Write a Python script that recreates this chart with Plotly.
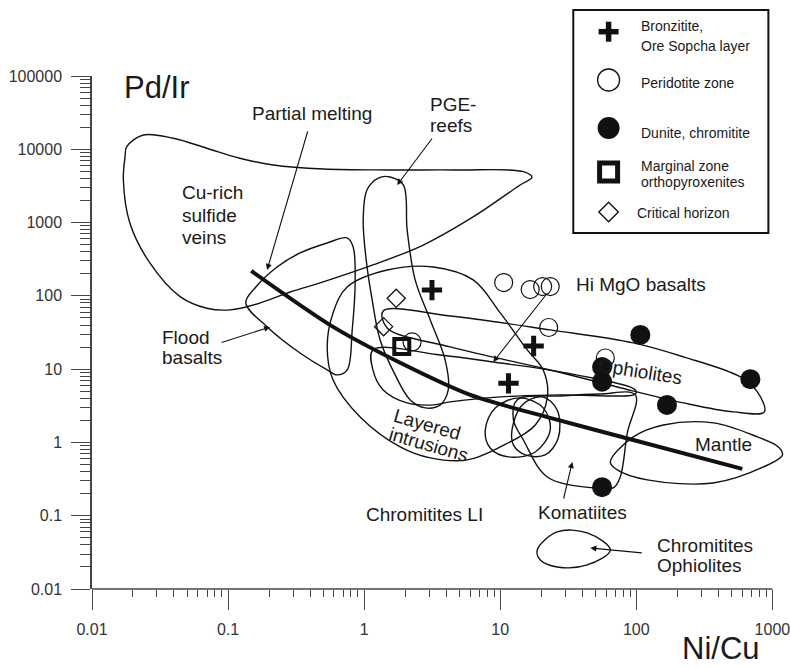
import plotly.graph_objects as go

# ---------------- sample data (Ni/Cu, Pd/Ir) ----------------
bronzitite_x = [3.15, 17.6, 11.5]
bronzitite_y = [120, 20.7, 6.4]

peridotite_x = [10.6, 16.6, 20.5, 23.3, 22.7, 59.2, 2.25]
peridotite_y = [152, 122, 134, 134, 37, 14.2, 23.5]

dunite_x = [107, 56, 56, 168, 689, 56]
dunite_y = [29.3, 10.7, 6.75, 3.25, 7.3, 0.245]

marginal_x = [1.89]
marginal_y = [20.3]

critical_x = [1.72, 1.39]
critical_y = [92.7, 38]

# partial melting trend
melting_x = [0.148, 0.592, 1.84, 6.02, 23.3, 95, 601]
melting_y = [219, 37.7, 12.2, 4.45, 2.16, 1.08, 0.435]

# ---------------- field outlines ----------------
cu_rich_x = [0.018, 0.0238, 0.0396, 0.0697, 0.122, 0.215, 0.502, 1.55, 4.8, 14.8, 17.1, 14.0,
             6.36, 2.72, 1.16, 0.50, 0.286, 0.163, 0.1035, 0.0697, 0.0444, 0.0267, 0.019, 0.017, 0.0175]
cu_rich_y = [10840, 15670, 14130, 10330, 7540, 6110, 5390, 5220, 5220, 4950, 4150, 3260,
             1203, 494, 264, 155, 113, 77.5, 64.3, 67.8, 97.5, 279, 977, 3810, 7930]

pge_x = [1.55, 1.94, 2.07, 2.37, 3.06, 3.94, 4.15, 3.62, 2.81, 2.18, 1.69, 1.31, 1.145, 1.035, 0.984, 1.048, 1.27]
pge_y = [4190, 3260, 793, 165, 46.9, 13.3, 5.2, 3.25, 2.96, 3.8, 8.34, 25, 87.9, 309, 1084, 2786, 4055]

flood_x = [0.135, 0.194, 0.338, 0.535, 0.633, 0.75, 0.817, 0.859, 0.83, 0.75, 0.535, 0.338, 0.229, 0.16]
flood_y = [80, 37.7, 16.6, 9.75, 8.34, 9.75, 34.3, 165, 465, 617, 527, 385, 248, 132]

layered_x = [0.75, 1.476, 3.22, 6.33, 10, 15.8, 20.7, 22.2, 18.1, 10, 5.72, 3.06, 1.84, 0.935, 0.591, 0.535, 0.591]
layered_y = [132, 225, 248, 165, 58.5, 18.3, 9.75, 4.18, 1.73, 0.869, 0.577, 0.615, 0.869, 2.23, 7.13, 20.1, 58.5]

ophiolites_x = [1.38, 4.29, 23.3, 95.1, 222, 582, 776, 873, 516, 222, 72.4, 23.3, 4.29, 1.476]
ophiolites_y = [62.2, 53.2, 34.3, 22.8, 14.7, 7.83, 4.89, 2.61, 2.61, 3.46, 5.71, 9.75, 20.1, 36.5]

hi_mgo_x = [1.16, 3.62, 8.89, 27.6, 98.4, 98.4, 27.6, 10, 4.29, 3.22, 2.07, 1.38, 1.16]
hi_mgo_y = [18.3, 15.6, 12.5, 9.16, 5.2, 4.59, 4.45, 4.18, 3.57, 3.25, 3.46, 5.2, 9.75]

komatiites_x = [98.4, 85.9, 76.2, 67.7, 48.3, 22.2, 14.8, 12.5, 13.3, 27.6, 54.3]
komatiites_y = [4.45, 1.35, 0.338, 0.239, 0.239, 0.338, 1.08, 2.03, 3.8, 4.31, 4.59]

loop_a_x = [7.76, 9.18, 14.0, 20.7, 23.3, 18.1, 11.5, 8.44]
loop_a_y = [1.48, 2.96, 4.05, 2.96, 1.48, 0.741, 0.634, 0.841]

loop_b_x = [12.2, 14.5, 20.4, 26.2, 26.7, 21.4, 15.3, 12.5]
loop_b_y = [1.48, 3.25, 4.18, 2.77, 1.15, 0.675, 0.675, 0.925]

mantle_x = [64.4, 95.1, 158, 368, 776, 1107, 1185, 859, 368, 120.5, 72.4]
mantle_y = [0.542, 1.19, 1.73, 1.85, 1.19, 0.869, 0.675, 0.463, 0.28, 0.308, 0.422]

chrom_oph_x = [18.7, 26.2, 43.6, 64.4, 43.6, 26.2, 19.7]
chrom_oph_y = [0.0341, 0.0601, 0.0582, 0.0341, 0.0213, 0.02, 0.0249]

x_tick_vals = [0.01, 0.1, 1, 10, 100, 1000]
x_tick_text = ["0.01", "0.1", "1", "10", "100", "1000"]
y_tick_vals = [0.01, 0.1, 1, 10, 100, 1000, 10000, 100000]
y_tick_text = ["0.01", "0.1", "1", "10", "100", "1000", "10000", "100000"]

# ---------------- layout geometry ----------------
FIG_W, FIG_H = 791, 667
M_L, M_T = 92, 76
PLOT_W, PLOT_H = 693.6, 513
XR = [-2, 3.1]
YR = [-2, 5]
FONT = "Liberation Sans, Arial, sans-serif"
INK = "#111111"
AXIS = "#444444"


def fx(px):
    return (px - M_L) / PLOT_W


def fy(py):
    return (M_T + PLOT_H - py) / PLOT_H


def data_x(px):
    return 10 ** (XR[0] + fx(px) * (XR[1] - XR[0]))


def data_y(py):
    return 10 ** (YR[0] + fy(py) * (YR[1] - YR[0]))


fig = go.Figure()

fields = [
    (cu_rich_x, cu_rich_y), (pge_x, pge_y), (flood_x, flood_y), (layered_x, layered_y),
    (ophiolites_x, ophiolites_y), (hi_mgo_x, hi_mgo_y), (komatiites_x, komatiites_y),
    (loop_a_x, loop_a_y), (loop_b_x, loop_b_y), (mantle_x, mantle_y), (chrom_oph_x, chrom_oph_y),
]
for fxs, fys in fields:
    fig.add_trace(go.Scatter(
        x=list(fxs) + [fxs[0]], y=list(fys) + [fys[0]], mode="lines",
        line=dict(color=INK, width=1.4, shape="spline", smoothing=1.0),
        hoverinfo="skip", showlegend=False))

fig.add_trace(go.Scatter(
    x=melting_x, y=melting_y, mode="lines",
    line=dict(color=INK, width=4, shape="spline", smoothing=0.8),
    showlegend=False))

# sample symbols
fig.add_trace(go.Scatter(x=peridotite_x, y=peridotite_y, mode="markers",
                         marker=dict(symbol="circle-open", size=18, color=INK, line=dict(width=1.2)),
                         showlegend=False))
fig.add_trace(go.Scatter(x=critical_x, y=critical_y, mode="markers",
                         marker=dict(symbol="diamond-open", size=14, color=INK, line=dict(width=1.3)),
                         showlegend=False))
fig.add_trace(go.Scatter(x=marginal_x, y=marginal_y, mode="markers",
                         marker=dict(symbol="square-open", size=15, color=INK, line=dict(width=4)),
                         showlegend=False))
fig.add_trace(go.Scatter(x=bronzitite_x, y=bronzitite_y, mode="markers",
                         marker=dict(symbol="cross-thin", size=14.5, color=INK, line=dict(width=5, color=INK)),
                         showlegend=False))
fig.add_trace(go.Scatter(x=dunite_x, y=dunite_y, mode="markers",
                         marker=dict(symbol="circle", size=20, color=INK, line=dict(width=0)),
                         showlegend=False))

# ---------------- legend box ----------------
LEG_CX = 608.3
shapes = [
    dict(type="rect", xref="paper", yref="paper", x0=fx(573), x1=fx(768), y0=fy(233), y1=fy(10),
         line=dict(color=INK, width=2), fillcolor="white", layer="below"),
    # x axis baseline (stops at 1000)
    dict(type="line", xref="paper", yref="paper", x0=0, x1=(3 - XR[0]) / (XR[1] - XR[0]),
         y0=0, y1=0, line=dict(color=AXIS, width=1.5)),
    # legend cross glyph (sits above the plotting area)
    dict(type="line", xref="paper", yref="paper", x0=fx(LEG_CX - 10), x1=fx(LEG_CX + 10),
         y0=fy(31.7), y1=fy(31.7), line=dict(color=INK, width=5.5)),
    dict(type="line", xref="paper", yref="paper", x0=fx(LEG_CX), x1=fx(LEG_CX),
         y0=fy(21.7), y1=fy(41.7), line=dict(color=INK, width=5.5)),
]

legend_glyphs = [
    (80, dict(symbol="circle-open", size=22, color=INK, line=dict(width=1.3))),
    (128, dict(symbol="circle", size=22, color=INK, line=dict(width=0))),
    (172, dict(symbol="square-open", size=18, color=INK, line=dict(width=5))),
    (212, dict(symbol="diamond-open", size=15, color=INK, line=dict(width=1.4))),
]
for py, mk in legend_glyphs:
    fig.add_trace(go.Scatter(x=[data_x(LEG_CX)], y=[data_y(py)], mode="markers", marker=mk,
                             cliponaxis=False, showlegend=False, hoverinfo="skip"))

annotations = []


def label(text, px, py, size=19, xanchor="center", angle=0, color="#1a1a1a"):
    annotations.append(dict(text=text, x=fx(px), y=fy(py), xref="paper", yref="paper",
                            xanchor=xanchor, yanchor="middle", showarrow=False, textangle=angle,
                            font=dict(family=FONT, size=size, color=color)))


def arrow(tail, head):
    annotations.append(dict(text="", x=fx(head[0]), y=fy(head[1]), xref="paper", yref="paper",
                            ax=tail[0] - head[0], ay=tail[1] - head[1], showarrow=True,
                            arrowhead=2, arrowsize=1.1, arrowwidth=1.1, arrowcolor=INK,
                            standoff=0, startstandoff=0))


legend_text = [
    ("Bronzitite,", 639, 26), ("Ore Sopcha layer", 639, 46.5), ("Peridotite zone", 639, 83),
    ("Dunite, chromitite", 639, 133), ("Marginal zone", 639, 166), ("orthopyroxenites", 639, 182),
    ("Critical horizon", 635, 213),
]
for t, px, py in legend_text:
    label(t, px, py, size=14, xanchor="left")

# axis titles
label("Pd/Ir", 156, 87, size=31)
label("Ni/Cu", 721, 648, size=31)

# field labels
label("Partial melting", 312, 113)
label("PGE-", 428, 104, xanchor="left")
label("reefs", 428, 125, xanchor="left")
label("Cu-rich", 180, 192, xanchor="left")
label("sulfide", 180, 215, xanchor="left")
label("veins", 180, 237, xanchor="left")
label("Flood", 160, 337, xanchor="left")
label("basalts", 160, 357, xanchor="left")
label("Hi MgO basalts", 641, 284)
label("Ophiolites", 640, 371, angle=9)
label("Layered", 427, 424, angle=16)
label("intrusions", 428, 444, angle=16)
label("Mantle", 723, 444)
label("Komatiites", 582, 512)
label("Chromitites LI", 424, 514)
label("Chromitites", 655, 545, xanchor="left")
label("Ophiolites", 655, 565, xanchor="left")

arrow((308, 130), (267, 270))
arrow((433, 137), (397, 185))
arrow((220, 343), (270, 327))
arrow((548, 292), (493, 362))
arrow((563, 500), (572, 462))
arrow((643, 553), (590, 548))

minor_vals = [k * 10 ** e for e in range(-2, 5) for k in range(2, 10)]

axis_common = dict(type="log", showgrid=False, zeroline=False, ticks="outside",
                   tickcolor=AXIS, tickwidth=1.4,
                   tickfont=dict(family=FONT, size=16, color="#333333"))

fig.update_layout(
    width=FIG_W, height=FIG_H,
    margin=dict(l=M_L, r=FIG_W - M_L - PLOT_W, t=M_T, b=FIG_H - M_T - PLOT_H, autoexpand=False),
    paper_bgcolor="white", plot_bgcolor="white",
    xaxis=dict(range=XR, showline=False, tickvals=x_tick_vals, ticktext=x_tick_text,
               ticklen=20, ticklabelstandoff=6,
               minor=dict(tickvals=[v for v in minor_vals if v < 1000], ticks="outside",
                          ticklen=7, tickcolor=AXIS, tickwidth=1.2),
               **axis_common),
    yaxis=dict(range=YR, showline=True, linecolor=AXIS, linewidth=1.5,
               tickvals=y_tick_vals, ticktext=y_tick_text, ticklen=19, ticklabelstandoff=6,
               minor=dict(tickvals=minor_vals, ticks="outside", ticklen=10, tickcolor=AXIS, tickwidth=1.2),
               **axis_common),
    shapes=shapes, annotations=annotations, showlegend=False,
)

fig.write_html("out.html")
